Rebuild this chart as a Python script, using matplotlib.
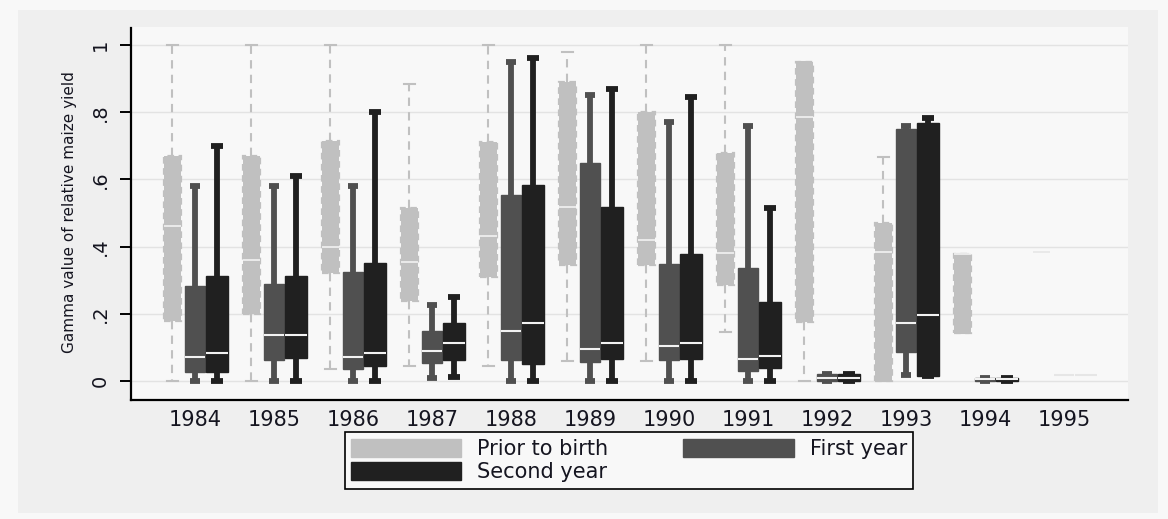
import matplotlib
matplotlib.use('agg')
import matplotlib.pyplot as plt
from matplotlib.patches import Rectangle, Patch

# years on the x axis
years = ['1984', '1985', '1986', '1987', '1988', '1989',
         '1990', '1991', '1992', '1993', '1994', '1995']

# box statistics: lower whisker, q1, median, q3, upper whisker
prior_lo = [0.0, 0.0, 0.035, 0.046, 0.046, 0.06, 0.06, 0.147, 0.0, 0.0, 0.142, 0.385]
prior_q1 = [0.18, 0.20, 0.32, 0.238, 0.31, 0.345, 0.345, 0.286, 0.176, 0.0, 0.142, 0.385]
prior_med = [0.46, 0.36, 0.40, 0.355, 0.432, 0.517, 0.42, 0.38, 0.787, 0.385, 0.378, 0.385]
prior_q3 = [0.67, 0.67, 0.715, 0.515, 0.712, 0.89, 0.80, 0.678, 0.95, 0.471, 0.378, 0.385]
prior_hi = [1.0, 1.0, 1.0, 0.884, 1.0, 0.98, 1.0, 1.0, 0.95, 0.667, 0.378, 0.385]

first_lo = [0.0, 0.0, 0.0, 0.008, 0.0, 0.0, 0.0, 0.0, 0.0, 0.018, 0.0, 0.017]
first_q1 = [0.027, 0.062, 0.035, 0.053, 0.062, 0.057, 0.062, 0.03, 0.0, 0.087, 0.0, 0.017]
first_med = [0.071, 0.137, 0.07, 0.089, 0.149, 0.094, 0.105, 0.065, 0.01, 0.174, 0.005, 0.017]
first_q3 = [0.283, 0.288, 0.325, 0.149, 0.553, 0.65, 0.348, 0.335, 0.022, 0.749, 0.01, 0.017]
first_hi = [0.58, 0.58, 0.58, 0.226, 0.949, 0.851, 0.772, 0.76, 0.022, 0.759, 0.01, 0.017]

second_lo = [0.0, 0.0, 0.0, 0.013, 0.0, 0.0, 0.0, 0.0, 0.0, 0.016, 0.0, 0.017]
second_q1 = [0.028, 0.069, 0.046, 0.062, 0.05, 0.065, 0.065, 0.038, 0.0, 0.016, 0.0, 0.017]
second_med = [0.083, 0.137, 0.083, 0.112, 0.174, 0.112, 0.112, 0.075, 0.01, 0.196, 0.005, 0.017]
second_q3 = [0.313, 0.313, 0.352, 0.174, 0.583, 0.517, 0.377, 0.236, 0.022, 0.767, 0.01, 0.017]
second_hi = [0.70, 0.61, 0.80, 0.251, 0.96, 0.868, 0.844, 0.514, 0.022, 0.784, 0.01, 0.017]

PRIOR = '#c0c0c0'
FIRST = '#505050'
SECOND = '#202020'
MED = '#f2f2f2'


def make_stats(lo, q1, med, q3, hi):
    return [dict(whislo=a, q1=b, med=c, q3=d, whishi=e, fliers=[])
            for a, b, c, d, e in zip(lo, q1, med, q3, hi)]


def draw_series(ax, stats, offset, width, capw, color, prior=False):
    pos = [i + offset for i in range(len(stats))]
    if prior:
        boxprops = dict(facecolor=color, edgecolor=color, linestyle=(0, (3, 2)), linewidth=1.6)
        whiskerprops = dict(color=color, linestyle=(0, (4, 3)), linewidth=1.5)
        capprops = dict(color=color, linewidth=1.5)
        medianprops = dict(color=MED, linewidth=1.2)
    else:
        boxprops = dict(facecolor=color, edgecolor=color, linewidth=1.0)
        whiskerprops = dict(color=color, linewidth=4.2, solid_capstyle='butt')
        capprops = dict(color=color, linewidth=4.2, solid_capstyle='butt')
        medianprops = dict(color=MED, linewidth=1.5)
    res = ax.bxp(stats, positions=pos, widths=width, capwidths=capw,
                 patch_artist=True, showfliers=False, manage_ticks=False,
                 boxprops=boxprops, whiskerprops=whiskerprops,
                 capprops=capprops, medianprops=medianprops)
    # degenerate groups only show a faint median line
    for i, s in enumerate(stats):
        if s['whislo'] == s['whishi'] and s['q1'] == s['q3']:
            res['boxes'][i].set_visible(False)
            for art in res['whiskers'][2*i:2*i+2] + res['caps'][2*i:2*i+2]:
                art.set_visible(False)
            res['medians'][i].set_color('#e6e6e6')
    return res


plt.rcParams['font.family'] = 'DejaVu Sans'

fig = plt.figure(figsize=(11.68, 5.19), dpi=100, facecolor='#f8f8f8')
fig.patches.append(Rectangle((18/1168, 1 - 513/519), 1140/1168, 503/519,
                             transform=fig.transFigure, facecolor='#efefef',
                             edgecolor='none', zorder=-10))

ax = fig.add_axes([131/1168, 1 - 400/519, 997/1168, 373/519])
ax.set_facecolor('#f8f8f8')

draw_series(ax, make_stats(prior_lo, prior_q1, prior_med, prior_q3, prior_hi),
            -0.285, 0.215, 0.13, PRIOR, prior=True)
draw_series(ax, make_stats(first_lo, first_q1, first_med, first_q3, first_hi),
            0.0, 0.26, 0.13, FIRST)
draw_series(ax, make_stats(second_lo, second_q1, second_med, second_q3, second_hi),
            0.28, 0.27, 0.15, SECOND)

ax.set_xlim(-0.81, 11.81)
ax.set_ylim(-0.0565, 1.0536)
ax.set_xticks(range(len(years)))
ax.set_xticklabels(years)
yt = [0, 0.2, 0.4, 0.6, 0.8, 1.0]
ax.set_yticks(yt)
ax.set_yticklabels(['0', '.2', '.4', '.6', '.8', '1'])
ax.grid(True, axis='y', color='#e3e3e3', linewidth=1.0)
ax.set_axisbelow(True)

for side in ['top', 'right']:
    ax.spines[side].set_visible(False)
for side in ['left', 'bottom']:
    ax.spines[side].set_linewidth(1.6)
    ax.spines[side].set_color('black')
ax.spines['left'].set_bounds(-0.0565, 1.05)

ax.tick_params(axis='x', length=0, pad=7, labelsize=15, labelcolor='#151520')
ax.tick_params(axis='y', length=8, width=1.4, pad=7, labelsize=14,
               labelcolor='#151520', labelrotation=90)
for lab in ax.get_yticklabels():
    lab.set_va('center')

fig.text(70/1168, 1 - 212/519, 'Gamma value of relative maize yield',
         rotation=90, ha='center', va='center', fontsize=11, color='#151520')

handles = [Patch(facecolor=PRIOR, edgecolor=PRIOR),
           Patch(facecolor=SECOND, edgecolor=SECOND),
           Patch(facecolor=FIRST, edgecolor=FIRST)]
labels = ['Prior to birth', 'Second year', 'First year']
leg = fig.legend(handles, labels, ncol=2, loc='center',
                 bbox_to_anchor=(629/1168, 1 - 460.5/519),
                 fontsize=15, frameon=True, fancybox=False, framealpha=1,
                 facecolor='#f8f8f8', edgecolor='black',
                 handlelength=5.3, handleheight=0.96, handletextpad=0.77,
                 columnspacing=3.6, labelspacing=0.15, borderpad=0.3)
leg.get_frame().set_linewidth(1.2)
for t in leg.get_texts():
    t.set_color('#151520')

fig.savefig('out.png', dpi=100, facecolor=fig.get_facecolor())
plt.close(fig)
